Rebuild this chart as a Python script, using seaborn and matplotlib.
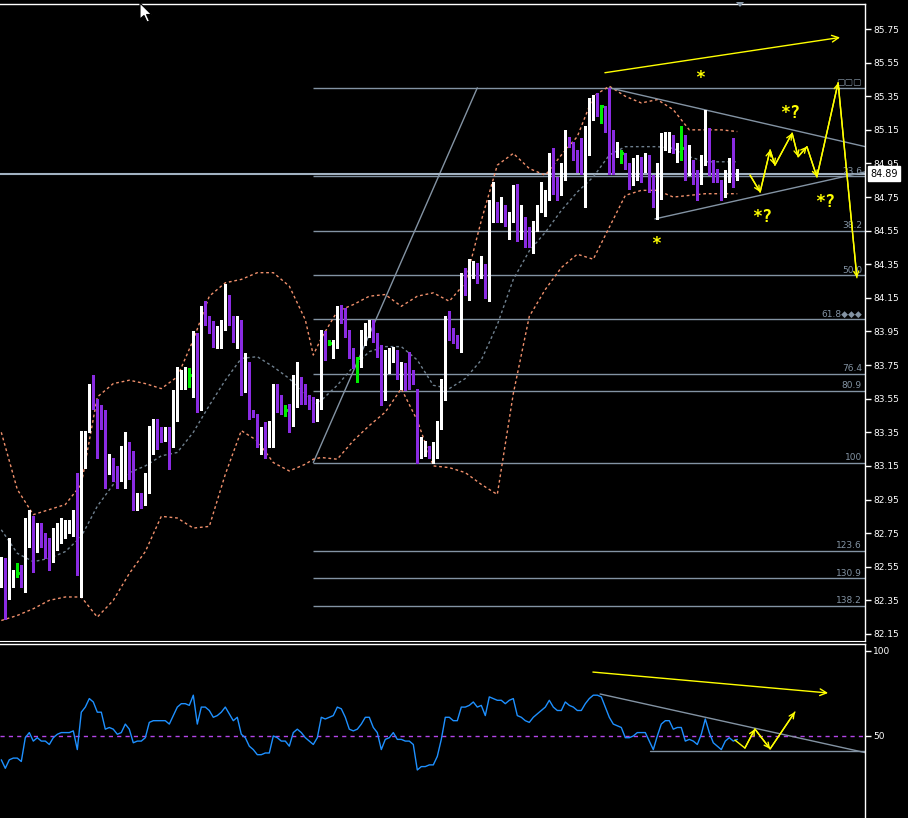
import numpy as np
import pandas as pd
import matplotlib
matplotlib.use("Agg")
import matplotlib.pyplot as plt
import matplotlib.transforms as mtrans
from matplotlib.patches import Polygon
import seaborn as sns

# ---------------- data ----------------
opens = [
    82.53, 82.58, 82.40, 82.49, 82.51, 82.53, 82.44, 82.74, 82.84, 82.65,
    82.78, 82.71, 82.69, 82.63, 82.73, 82.74, 82.76, 82.77, 82.77, 82.84,
    82.56, 83.17, 83.38, 83.63, 83.53, 83.41, 83.41, 83.11, 83.20, 83.14,
    83.07, 83.11, 83.29, 83.22, 82.90, 82.97, 82.94, 83.01, 83.28, 83.36,
    83.36, 83.31, 83.33, 83.27, 83.47, 83.65, 83.68, 83.69, 83.70, 83.94,
    83.49, 84.04, 84.04, 83.98, 83.86, 83.93, 83.98, 84.16, 84.02, 83.92,
    84.01, 83.66, 83.74, 83.48, 83.45, 83.29, 83.33, 83.32, 83.34, 83.63,
    83.56, 83.48, 83.47, 83.40, 83.63, 83.67, 83.58, 83.54, 83.51, 83.43,
    83.51, 83.91, 83.88, 83.81, 83.88, 84.07, 84.07, 83.95, 83.82, 83.79,
    83.82, 83.93, 83.97, 84.00, 83.89, 83.83, 83.56, 83.73, 83.79, 83.82,
    83.72, 83.73, 83.73, 83.70, 83.61, 83.21, 83.21, 83.26, 83.20, 83.26,
    83.39, 83.60, 83.99, 83.92, 83.92, 83.89, 84.22, 84.21, 84.32, 84.34,
    84.27, 84.32, 84.18, 84.67, 84.70, 84.61, 84.67, 84.58, 84.61, 84.80,
    84.55, 84.60, 84.54, 84.51, 84.57, 84.66, 84.69, 84.76, 84.96, 84.81,
    84.79, 84.88, 85.09, 85.08, 85.01, 84.98, 84.94, 85.05, 85.23, 85.31,
    85.29, 85.28, 85.17, 85.11, 85.01, 85.01, 85.01, 84.94, 84.88, 84.88,
    84.98, 84.92, 84.99, 84.85, 84.78, 84.88, 85.05, 85.07, 85.12, 85.01,
    85.04, 85.05, 84.89, 84.94, 84.90, 84.85, 84.97, 85.16, 84.96, 84.90,
    84.84, 84.79, 84.88, 84.94, 84.85]
highs = [
    82.61, 82.60, 82.72, 82.53, 82.57, 82.56, 82.84, 82.89, 82.85, 82.81,
    82.81, 82.75, 82.72, 82.78, 82.81, 82.84, 82.83, 82.83, 82.89, 83.11,
    83.36, 83.36, 83.64, 83.69, 83.55, 83.51, 83.48, 83.22, 83.20, 83.15,
    83.27, 83.35, 83.29, 83.24, 82.99, 82.99, 83.11, 83.39, 83.43, 83.43,
    83.38, 83.38, 83.38, 83.60, 83.74, 83.72, 83.74, 83.73, 83.95, 83.94,
    84.10, 84.13, 84.04, 84.01, 83.98, 84.02, 84.23, 84.17, 84.04, 84.04,
    84.02, 83.82, 83.77, 83.48, 83.46, 83.38, 83.41, 83.42, 83.64, 83.64,
    83.57, 83.51, 83.52, 83.69, 83.77, 83.68, 83.64, 83.57, 83.56, 83.55,
    83.96, 83.95, 83.90, 83.90, 84.10, 84.11, 84.09, 83.96, 83.85, 83.80,
    83.96, 84.00, 84.02, 84.02, 83.94, 83.87, 83.84, 83.85, 83.86, 83.84,
    83.77, 83.76, 83.83, 83.72, 83.61, 83.32, 83.30, 83.27, 83.29, 83.42,
    83.67, 84.04, 84.07, 83.97, 83.93, 84.30, 84.33, 84.38, 84.37, 84.36,
    84.40, 84.35, 84.73, 84.84, 84.72, 84.75, 84.70, 84.66, 84.82, 84.83,
    84.70, 84.63, 84.57, 84.61, 84.70, 84.84, 84.79, 85.01, 85.04, 84.87,
    84.95, 85.15, 85.11, 85.08, 85.03, 85.10, 85.17, 85.34, 85.36, 85.37,
    85.30, 85.29, 85.40, 85.15, 85.08, 85.03, 85.01, 84.95, 84.98, 85.00,
    84.99, 85.01, 85.00, 84.88, 84.95, 85.13, 85.14, 85.14, 85.12, 85.07,
    85.17, 85.12, 85.06, 84.97, 84.91, 85.00, 85.27, 85.16, 84.97, 84.92,
    84.85, 84.91, 84.98, 85.10, 84.92]
lows = [
    82.43, 82.24, 82.36, 82.43, 82.49, 82.43, 82.40, 82.67, 82.52, 82.64,
    82.67, 82.60, 82.53, 82.58, 82.65, 82.69, 82.72, 82.75, 82.73, 82.50,
    82.37, 83.14, 83.35, 83.49, 83.20, 83.37, 83.02, 83.10, 83.06, 83.02,
    83.06, 83.02, 83.07, 82.89, 82.89, 82.90, 82.92, 82.99, 83.22, 83.25,
    83.29, 83.30, 83.13, 83.26, 83.42, 83.61, 83.61, 83.62, 83.56, 83.47,
    83.48, 83.99, 83.94, 83.86, 83.85, 83.85, 83.96, 83.99, 83.89, 83.85,
    83.57, 83.59, 83.43, 83.44, 83.26, 83.22, 83.20, 83.26, 83.26, 83.47,
    83.46, 83.45, 83.35, 83.39, 83.50, 83.52, 83.52, 83.49, 83.41, 83.42,
    83.49, 83.78, 83.87, 83.79, 83.85, 84.00, 83.92, 83.79, 83.73, 83.65,
    83.74, 83.87, 83.92, 83.89, 83.80, 83.51, 83.54, 83.70, 83.77, 83.67,
    83.61, 83.60, 83.61, 83.64, 83.17, 83.20, 83.21, 83.20, 83.17, 83.20,
    83.37, 83.54, 83.90, 83.88, 83.85, 83.83, 84.17, 84.14, 84.27, 84.24,
    84.27, 84.15, 84.13, 84.60, 84.60, 84.60, 84.58, 84.50, 84.60, 84.49,
    84.50, 84.45, 84.45, 84.42, 84.55, 84.66, 84.64, 84.73, 84.77, 84.73,
    84.76, 84.85, 85.05, 84.97, 84.90, 84.89, 84.69, 85.00, 85.21, 85.23,
    85.19, 85.14, 84.89, 84.89, 84.99, 84.95, 84.92, 84.80, 84.82, 84.85,
    84.84, 84.90, 84.78, 84.69, 84.62, 84.74, 85.03, 85.02, 85.01, 84.96,
    84.97, 84.85, 84.88, 84.83, 84.73, 84.83, 84.94, 84.88, 84.84, 84.84,
    84.73, 84.75, 84.84, 84.81, 84.85]
closes = [
    82.59, 82.40, 82.49, 82.52, 82.51, 82.43, 82.74, 82.83, 82.66, 82.77,
    82.69, 82.67, 82.64, 82.75, 82.76, 82.78, 82.79, 82.79, 82.83, 82.57,
    83.18, 83.30, 83.61, 83.55, 83.39, 83.39, 83.09, 83.19, 83.13, 83.06,
    83.10, 83.27, 83.20, 82.91, 82.96, 82.93, 83.01, 83.27, 83.36, 83.34,
    83.32, 83.33, 83.28, 83.48, 83.64, 83.70, 83.70, 83.69, 83.94, 83.50,
    84.04, 84.02, 83.98, 83.87, 83.92, 84.00, 84.15, 84.01, 83.93, 84.02,
    83.67, 83.69, 83.46, 83.45, 83.28, 83.32, 83.32, 83.34, 83.61, 83.56,
    83.47, 83.48, 83.41, 83.63, 83.67, 83.57, 83.54, 83.50, 83.43, 83.51,
    83.87, 83.80, 83.88, 83.88, 84.09, 84.01, 83.94, 83.82, 83.77, 83.79,
    83.92, 83.97, 84.01, 83.90, 83.84, 83.57, 83.72, 83.80, 83.83, 83.71,
    83.74, 83.71, 83.71, 83.67, 83.20, 83.23, 83.28, 83.21, 83.27, 83.39,
    83.58, 83.98, 83.93, 83.91, 83.90, 84.23, 84.20, 84.31, 84.35, 84.28,
    84.30, 84.18, 84.67, 84.69, 84.64, 84.66, 84.60, 84.60, 84.79, 84.50,
    84.60, 84.52, 84.50, 84.56, 84.66, 84.70, 84.75, 84.95, 84.82, 84.79,
    84.88, 85.08, 85.07, 85.00, 84.96, 84.95, 85.08, 85.24, 85.31, 85.29,
    85.29, 85.17, 85.08, 85.01, 85.03, 85.01, 84.92, 84.89, 84.95, 84.97,
    84.91, 85.00, 84.83, 84.78, 84.88, 85.07, 85.08, 85.11, 85.01, 85.03,
    85.04, 84.88, 84.93, 84.88, 84.85, 84.97, 85.15, 84.96, 84.88, 84.85,
    84.79, 84.90, 84.95, 84.86, 84.89]

# Bollinger band values at these bars
band_bar = [0, 4, 8, 12, 16, 20, 24, 28, 32, 36, 40, 44, 48, 52, 56, 60, 64, 68,
            72, 76, 78, 80, 84, 88, 92, 96, 100, 104, 108, 112, 116, 120, 124,
            128, 132, 136, 140, 144, 148, 152, 156, 160, 164, 168, 172, 176,
            180, 184]
band_upper = [83.35, 83.01, 82.86, 82.89, 82.92, 83.04, 83.56, 83.64, 83.66,
              83.64, 83.61, 83.68, 83.90, 84.16, 84.24, 84.26, 84.30, 84.30,
              84.22, 84.02, 83.81, 83.91, 84.07, 84.11, 84.16, 84.17, 84.10,
              84.16, 84.18, 84.13, 84.24, 84.61, 84.94, 85.01, 84.92, 84.88,
              85.00, 85.11, 85.35, 85.41, 85.35, 85.31, 85.33, 85.27, 85.15,
              85.15, 85.15, 85.14]
band_mid = [82.77, 82.63, 82.58, 82.60, 82.64, 82.73, 82.91, 83.04, 83.11,
            83.15, 83.21, 83.23, 83.35, 83.51, 83.66, 83.79, 83.80, 83.74,
            83.67, 83.57, 83.52, 83.54, 83.63, 83.74, 83.83, 83.86, 83.86,
            83.78, 83.63, 83.61, 83.67, 83.78, 83.99, 84.26, 84.43, 84.54,
            84.67, 84.78, 84.87, 85.00, 85.05, 85.05, 85.05, 85.04, 84.99,
            84.96, 84.96, 84.96]
band_lower = [82.23, 82.26, 82.30, 82.35, 82.37, 82.37, 82.25, 82.35, 82.51,
              82.64, 82.85, 82.84, 82.78, 82.79, 83.10, 83.36, 83.30, 83.17,
              83.12, 83.16, 83.19, 83.20, 83.19, 83.30, 83.39, 83.47, 83.61,
              83.42, 83.15, 83.14, 83.11, 83.04, 82.98, 83.58, 84.04, 84.20,
              84.33, 84.41, 84.38, 84.57, 84.76, 84.79, 84.79, 84.75, 84.76,
              84.77, 84.77, 84.77]

rsi = [36, 31, 36, 37, 37, 35, 49, 52, 47, 49,
       47, 47, 45, 49, 51, 52, 52, 52, 53, 42,
       64, 67, 72, 70, 64, 64, 54, 55, 54, 51,
       52, 57, 54, 46, 47, 47, 49, 58, 59, 59,
       59, 59, 57, 62, 67, 69, 69, 68, 74, 57,
       67, 67, 65, 61, 62, 64, 67, 63, 59, 61,
       51, 49, 44, 42, 39, 39, 40, 40, 50, 49,
       47, 47, 44, 52, 54, 52, 49, 47, 45, 49,
       61, 60, 61, 62, 67, 66, 61, 54, 53, 54,
       57, 61, 61, 55, 52, 42, 48, 49, 52, 48,
       48, 47, 47, 45, 30, 32, 32, 33, 33, 38,
       48, 61, 61, 59, 59, 67, 67, 68, 70, 67,
       68, 62, 73, 72, 71, 71, 69, 71, 72, 62,
       61, 59, 58, 61, 63, 65, 67, 71, 67, 65,
       65, 70, 68, 67, 65, 65, 69, 72, 74, 74,
       73, 67, 61, 57, 56, 55, 49, 49, 50, 52,
       52, 52, 47, 42, 50, 57, 59, 59, 54, 55,
       55, 47, 48, 47, 45, 51, 60, 52, 46, 44,
       42, 47, 49, 47, 48]

price_ticks = ["82.15", "82.35", "82.55", "82.75", "82.95", "83.15", "83.35",
               "83.55", "83.75", "83.95", "84.15", "84.35", "84.55", "84.75",
               "84.95", "85.15", "85.35", "85.55", "85.75"]
rsi_ticks = ["50", "100"]
last_price = 84.89

# Fibonacci retracement tool
fib_high, fib_low = 85.40, 83.17
fib_bar_low, fib_bar_high = 78, 119
fib_levels = [0.0, 23.6, 38.2, 50.0, 61.8, 76.4, 80.9, 100.0, 123.6, 130.9, 138.2]
fib_labels = ["\u25a2\u25a2\u25a2", "23.6", "38.2", "50.0", "61.8\u25c6\u25c6\u25c6",
              "76.4", "80.9", "100", "123.6", "130.9", "138.2"]

# hand-drawn objects on the price chart
tri_upper_bar, tri_upper_p = [152, 216], [85.40, 85.05]
tri_lower_bar, tri_lower_p = [163.4, 216], [84.62, 84.90]
top_arrow_bar, top_arrow_p = [150.9, 209.7], [85.49, 85.70]
proj_bar = [187.2, 189.7, 192.2, 193.4, 197.7, 199.2, 201.4, 203.9, 209.2, 213.9]
proj_p = [84.88, 84.78, 85.03, 84.94, 85.13, 84.99, 85.05, 84.87, 85.43, 84.27]
mark_bar = [174.7, 163.7, 197.2, 190.2, 205.9]
mark_p = [85.43, 84.44, 85.22, 84.60, 84.69]
mark_txt = ["*", "*", "*?", "*?", "*?"]

# hand-drawn objects on the RSI window
rsi_arrow_bar, rsi_arrow_v = [147.9, 206.7], [87.6, 75.3]
rsi_trend_bar, rsi_trend_v = [149.7, 216.4], [74.7, 40.0]
rsi_base_bar, rsi_base_v = [162.2, 216.4], [41.2, 41.2]
rsi_proj_bar = [183.4, 185.9, 188.4, 192.2, 198.4]
rsi_proj_v = [47.6, 42.9, 54.1, 42.4, 64.1]

# ---------------- styling ----------------
sns.set_style("dark", {"axes.facecolor": "black", "figure.facecolor": "black",
                       "axes.edgecolor": "white"})
plt.rcParams['font.family'] = ['DejaVu Sans']

YEL = "#ffff00"
FIBC = "#8393a3"
W, H = 908, 818
fig = plt.figure(figsize=(W / 100, H / 100), dpi=100, facecolor="black")
ax = fig.add_axes([0, (H - 641) / H, 865 / W, (641 - 3.5) / H])
ax2 = fig.add_axes([0, 0, 865 / W, (H - 643.5) / H])
X0, X1 = -0.325, 215.925

for a in (ax, ax2):
    a.set_facecolor("black")
    a.grid(False)
    a.spines["left"].set_visible(False)
    a.spines["bottom"].set_visible(False)
    for s in ("right", "top"):
        a.spines[s].set_color("white")
        a.spines[s].set_linewidth(1)
    a.set_xlim(X0, X1)
    a.set_xticks([])
ax.spines["bottom"].set_visible(True)
ax.spines["bottom"].set_color("white")

o = np.array(opens); h = np.array(highs); l = np.array(lows); c = np.array(closes)
idx = np.arange(len(c))

# Bollinger bands
dfb = pd.DataFrame({"bar": band_bar, "upper": band_upper, "mid": band_mid,
                    "lower": band_lower})
for col_name, colr in (("upper", "#f0906c"), ("lower", "#f0906c"), ("mid", "#6f808f")):
    sns.lineplot(data=dfb, x="bar", y=col_name, ax=ax, color=colr, lw=1,
                 linestyle=(0, (2, 2)), zorder=2)

# Fibonacci lines
fib_prices = [fib_high - lv / 100.0 * (fib_high - fib_low) for lv in fib_levels]
ax.hlines(fib_prices, fib_bar_low, X1, colors=FIBC, lw=1, zorder=1)
ax.plot([fib_bar_low, fib_bar_high], [fib_low, fib_high], color=FIBC, lw=1, zorder=1)
tr = mtrans.blended_transform_factory(ax.transAxes, ax.transData)
for p, lab in zip(fib_prices, fib_labels):
    ax.annotate(lab, xy=(862 / 865, p), xycoords=tr, xytext=(0, 0.5),
                textcoords="offset points", ha="right", va="bottom",
                color=FIBC, fontsize=6.5, zorder=4)

# current price line
ax.axhline(last_price, color="#a2b2c2", lw=1.5, zorder=1)

# candles
up = c > o
dn = c < o
dj = c == o
cols = np.where(up, "white", np.where(dn, "#8a2be2", "#00ee00"))
ax.vlines(idx, l, h, colors=cols, lw=1, antialiased=False, zorder=3)
body_lo = np.minimum(o, c)
body_h = np.maximum(np.abs(c - o), 0.006)
m = ~dj
ax.bar(idx[m], body_h[m], bottom=body_lo[m], width=0.75, color=cols[m],
       linewidth=0, antialiased=False, zorder=3)
ax.hlines(c[dj], idx[dj] - 0.45, idx[dj] + 0.45, colors="#00ee00", lw=1,
          antialiased=False, zorder=3)

# triangle
ax.plot(tri_upper_bar, tri_upper_p, color=FIBC, lw=1, zorder=2)
ax.plot(tri_lower_bar, tri_lower_p, color=FIBC, lw=1, zorder=2)

# yellow drawings
ax.annotate("", xy=(top_arrow_bar[1], top_arrow_p[1]),
            xytext=(top_arrow_bar[0], top_arrow_p[0]),
            arrowprops=dict(arrowstyle="->", color=YEL, lw=1, shrinkA=0,
                            shrinkB=0, mutation_scale=12), zorder=5)
ax.plot(proj_bar, proj_p, color=YEL, lw=1, zorder=5)
for k in range(1, len(proj_bar)):
    ax.annotate("", xy=(proj_bar[k], proj_p[k]),
                xytext=(proj_bar[k - 1], proj_p[k - 1]),
                arrowprops=dict(arrowstyle="->", color=YEL, lw=1, shrinkA=0,
                                shrinkB=0, mutation_scale=9), zorder=5)
for xb, yp, t in zip(mark_bar, mark_p, mark_txt):
    ax.text(xb, yp, t, color=YEL, fontsize=12, fontweight="bold",
            family="DejaVu Sans Mono", ha="center", va="baseline", zorder=5)

ax.set_ylim(82.108, 85.902)
ax.set_xlim(X0, X1)
ax.set_xlabel(""); ax.set_ylabel("")
ax.yaxis.tick_right()
ax.set_yticks([float(t) for t in price_ticks])
ax.set_yticklabels(price_ticks)
ax.tick_params(axis="y", which="both", right=True, left=False, labelright=True,
               labelleft=False, direction="out", length=4, width=1,
               color="white", labelcolor="white", labelsize=6.5, pad=2)

# current price box
ax.text(870 / 865, last_price, "84.89", transform=tr, ha="left", va="center",
        fontsize=7, color="black", clip_on=False, zorder=10,
        bbox=dict(boxstyle="square,pad=0.22", fc="white", ec="white"))

# ---------------- RSI window ----------------
dfr = pd.DataFrame({"bar": idx, "rsi": rsi})
sns.lineplot(data=dfr, x="bar", y="rsi", ax=ax2, color="#1e90ff", lw=1, zorder=3)
ax2.axhline(50, color="#b345e8", lw=1, linestyle=(0, (3, 3)), zorder=2)
ax2.plot(rsi_trend_bar, rsi_trend_v, color=FIBC, lw=1, zorder=2)
ax2.plot(rsi_base_bar, rsi_base_v, color=FIBC, lw=1, zorder=2)
ax2.annotate("", xy=(rsi_arrow_bar[1], rsi_arrow_v[1]),
             xytext=(rsi_arrow_bar[0], rsi_arrow_v[0]),
             arrowprops=dict(arrowstyle="->", color=YEL, lw=1, shrinkA=0,
                             shrinkB=0, mutation_scale=12), zorder=5)
ax2.plot(rsi_proj_bar, rsi_proj_v, color=YEL, lw=1, zorder=5)
for k in (2, 3, 4):
    ax2.annotate("", xy=(rsi_proj_bar[k], rsi_proj_v[k]),
                 xytext=(rsi_proj_bar[k - 1], rsi_proj_v[k - 1]),
                 arrowprops=dict(arrowstyle="->", color=YEL, lw=1, shrinkA=0,
                                 shrinkB=0, mutation_scale=9), zorder=5)
ax2.set_ylim(1.76, 104.4)
ax2.set_xlim(X0, X1)
ax2.set_xlabel(""); ax2.set_ylabel("")
ax2.yaxis.tick_right()
ax2.set_yticks([float(t) for t in rsi_ticks])
ax2.set_yticklabels(rsi_ticks)
ax2.tick_params(axis="y", which="both", right=True, left=False, labelright=True,
                labelleft=False, direction="out", length=4, width=1,
                color="white", labelcolor="white", labelsize=6.5, pad=2)

# chart-shift marker and mouse pointer (screen decorations)
ident = mtrans.IdentityTransform()
fig.patches.append(Polygon([(736, H - 2), (744, H - 2), (740, H - 7)], closed=True,
                           fc="#8a9aaa", ec="none", transform=ident,
                           figure=fig))
fig.patches.append(Polygon([(140, H - 3), (140, H - 19), (144, H - 15.5),
                            (147, H - 22), (149.5, H - 21), (146.5, H - 14.5),
                            (151.5, H - 14.5)], closed=True, fc="white",
                           ec="black", lw=0.8, transform=ident, figure=fig))

fig.savefig("out.png", dpi=100, facecolor="black")
